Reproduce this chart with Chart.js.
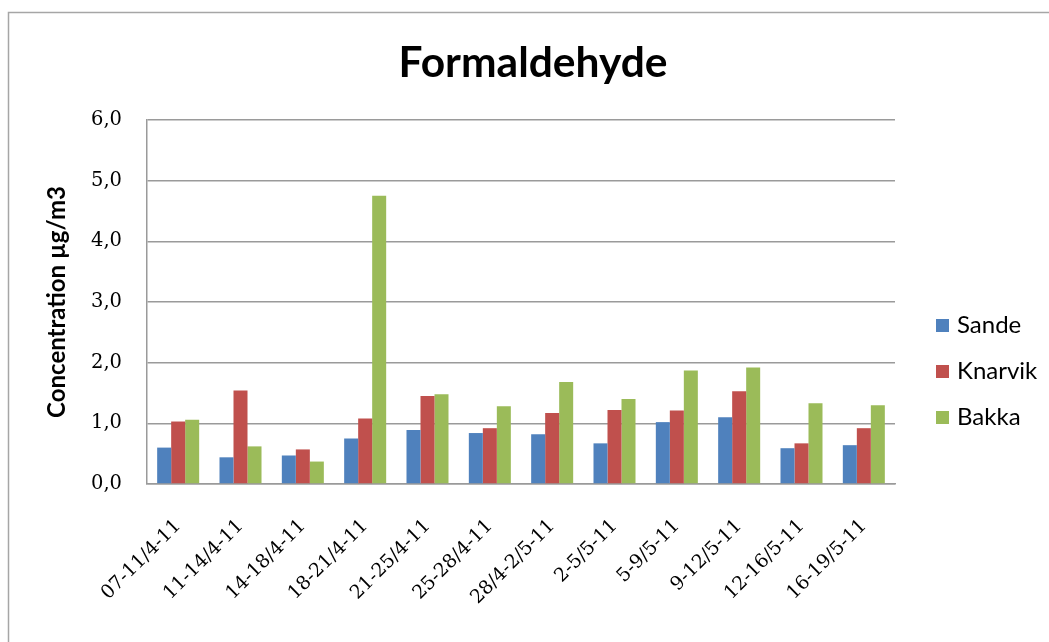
<!DOCTYPE html>
<html>
<head>
<meta charset="utf-8">
<script src="https://cdn.jsdelivr.net/npm/chart.js@4/dist/chart.umd.min.js"></script>
<style>
  html, body { margin: 0; padding: 0; background: #ffffff; }
  #wrap { position: relative; width: 1049px; height: 642px; }
</style>
</head>
<body>
<div id="wrap"><canvas id="c" width="1049" height="642"></canvas></div>
<script>
const chartTitle = 'Formaldehyde';
const yAxisTitle = 'Concentration µg/m3';
const categories = ['07-11/4-11', '11-14/4-11', '14-18/4-11', '18-21/4-11', '21-25/4-11', '25-28/4-11',
                    '28/4-2/5-11', '2-5/5-11', '5-9/5-11', '9-12/5-11', '12-16/5-11', '16-19/5-11'];
const seriesNames = ['Sande', 'Knarvik', 'Bakka'];
const sande   = [0.60, 0.44, 0.47, 0.75, 0.89, 0.84, 0.82, 0.67, 1.02, 1.10, 0.59, 0.64];
const knarvik = [1.03, 1.54, 0.57, 1.08, 1.45, 0.92, 1.17, 1.22, 1.21, 1.53, 0.67, 0.92];
const bakka   = [1.06, 0.62, 0.37, 4.75, 1.48, 1.28, 1.68, 1.40, 1.87, 1.92, 1.33, 1.30];
const yTickLabels = ['0,0', '1,0', '2,0', '3,0', '4,0', '5,0', '6,0'];
const colors = ['#4F81BD', '#C0504D', '#9BBB59'];

const GRID = '#9a9a9a';

const decorPlugin = {
  id: 'decor',
  beforeDraw(chart) {
    const ctx = chart.ctx;
    ctx.save();
    ctx.fillStyle = '#ffffff';
    ctx.fillRect(0, 0, chart.width, chart.height);
    ctx.strokeStyle = '#a6a6a6';
    ctx.lineWidth = 1.5;
    ctx.strokeRect(8.5, 12.5, 3000, 3000);
    ctx.restore();
  },
  afterDraw(chart) {
    const ctx = chart.ctx;
    ctx.save();
    // title
    ctx.fillStyle = '#000000';
    ctx.font = 'bold 42.5px Lato';
    ctx.textAlign = 'center';
    ctx.textBaseline = 'alphabetic';
    ctx.fillText(chartTitle, 533, 77);
    // legend
    ctx.font = '24px Lato';
    ctx.textAlign = 'left';
    const ds = chart.data.datasets;
    ds.forEach((d, i) => {
      const base = 333 + i * 46;
      ctx.fillStyle = d.backgroundColor;
      ctx.fillRect(936, base - 14, 13, 13);
      ctx.fillStyle = '#000000';
      ctx.fillText(d.label, 957, base);
    });
    ctx.restore();
  }
};

new Chart(document.getElementById('c'), {
  type: 'bar',
  data: {
    labels: categories,
    datasets: [
      { label: seriesNames[0], data: sande, backgroundColor: colors[0] },
      { label: seriesNames[1], data: knarvik, backgroundColor: colors[1] },
      { label: seriesNames[2], data: bakka, backgroundColor: colors[2] }
    ]
  },
  options: {
    responsive: false,
    animation: false,
    devicePixelRatio: 1,
    layout: { padding: { top: 120, left: 34, right: 154, bottom: 0 } },
    datasets: { bar: { categoryPercentage: 0.674, barPercentage: 1.0, borderWidth: 0 } },
    plugins: {
      legend: { display: false },
      title: { display: false },
      tooltip: { enabled: false }
    },
    scales: {
      x: {
        grid: { display: false, drawTicks: false },
        border: { display: true, color: GRID, width: 1.5 },
        ticks: {
          autoSkip: false,
          minRotation: 45,
          maxRotation: 45,
          padding: 31,
          color: '#000000',
          font: { family: 'DejaVu Serif', size: 19 }
        },
        afterFit(scale) { scale.height = 158; }
      },
      y: {
        min: 0,
        max: 6,
        grid: { color: GRID, lineWidth: 1.5, drawTicks: false },
        border: { display: true, color: GRID, width: 1.5 },
        ticks: {
          stepSize: 1,
          padding: 25,
          color: '#000000',
          font: { family: 'DejaVu Serif', size: 19.5 },
          callback: (v, i) => yTickLabels[i]
        },
        title: {
          display: true,
          text: yAxisTitle,
          color: '#000000',
          font: { family: 'Lato', size: 24, weight: 'bold', lineHeight: 1 },
          padding: { top: 11, bottom: 0 }
        },
        afterFit(scale) { scale.width = 147 - 34; }
      }
    }
  },
  plugins: [decorPlugin]
});
</script>
</body>
</html>
